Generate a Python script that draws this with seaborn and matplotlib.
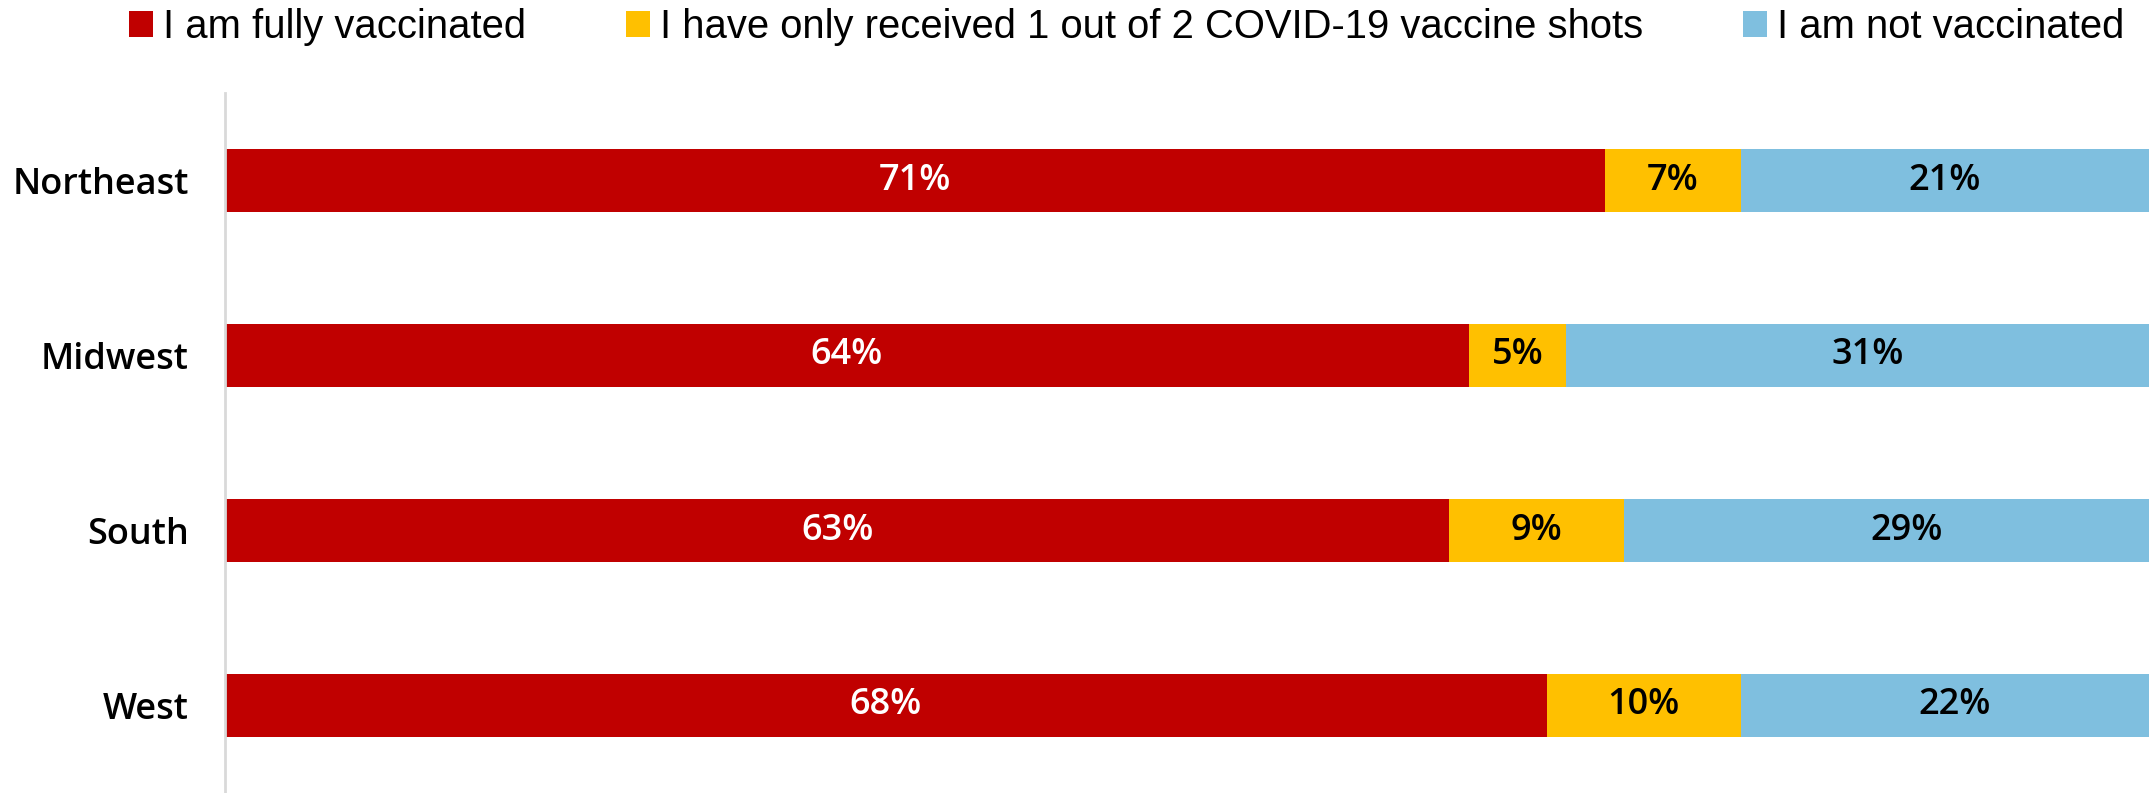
import matplotlib
matplotlib.use("Agg")
import matplotlib.pyplot as plt
import seaborn as sns
import pandas as pd
import numpy as np
from matplotlib.patches import Patch

regions = ["Northeast", "Midwest", "South", "West"]
series_names = ["I am fully vaccinated",
                "I have only received 1 out of 2 COVID-19 vaccine shots",
                "I am not vaccinated"]
fully = [71, 64, 63, 68]
partial = [7, 5, 9, 10]
notvax = [21, 31, 29, 22]

colors = ["#C00000", "#FFC000", "#7FBFDF"]
label_colors = ["white", "black", "black"]

sns.set_theme(style="white")
plt.rcParams["font.family"] = ["Open Sans", "DejaVu Sans"]
plt.rcParams["text.color"] = "black"

df = pd.DataFrame({"region": regions, "fully": fully,
                   "partial": partial, "notvax": notvax})
df["c1"] = df["fully"]
df["c2"] = df["fully"] + df["partial"]
df["c3"] = df["c2"] + df["notvax"]

W, H = 2149, 793
fig = plt.figure(figsize=(W / 100, H / 100), dpi=100)
ax = fig.add_axes([225 / W, 0, (W - 225) / W, (H - 93) / H])

bar_w = 0.365
for col, c in zip(["c3", "c2", "c1"], colors[::-1]):
    sns.barplot(data=df, x=col, y="region", order=regions, orient="h",
                color=c, saturation=1, width=bar_w, linewidth=0, ax=ax)

vals = [df["fully"], df["partial"], df["notvax"]]
cums = [df["c1"], df["c2"], df["c3"]]
for v, cum, lc in zip(vals, cums, label_colors):
    for i in range(len(regions)):
        ax.text(cum[i] - v[i] / 2, i, f"{v[i]}%", ha="center", va="center",
                color=lc, fontsize=26, fontweight="semibold")

ax.set_xlim(0, 99)
ax.set_ylim(3.5, -0.5)
ax.set_xlabel("")
ax.set_ylabel("")
ax.set_xticks([])
for s in ["top", "right", "bottom"]:
    ax.spines[s].set_visible(False)
ax.spines["left"].set_color("#D9D9D9")
ax.spines["left"].set_linewidth(2)
ax.tick_params(axis="y", length=0, pad=26, labelsize=26, labelcolor="black")
for t in ax.get_yticklabels():
    t.set_fontweight("semibold")

handles = [Patch(facecolor=c, edgecolor="none") for c in colors]
fig.legend(handles, series_names, loc="center left",
           bbox_to_anchor=(129 / W, 1 - 27 / H), ncol=3, frameon=False,
           borderaxespad=0, borderpad=0, handlelength=0.6, handleheight=0.6,
           handletextpad=0.25, columnspacing=2.5, labelcolor="black",
           prop={"family": ["Liberation Sans", "DejaVu Sans"], "size": 28.8})

fig.savefig("out.png", dpi=100)
